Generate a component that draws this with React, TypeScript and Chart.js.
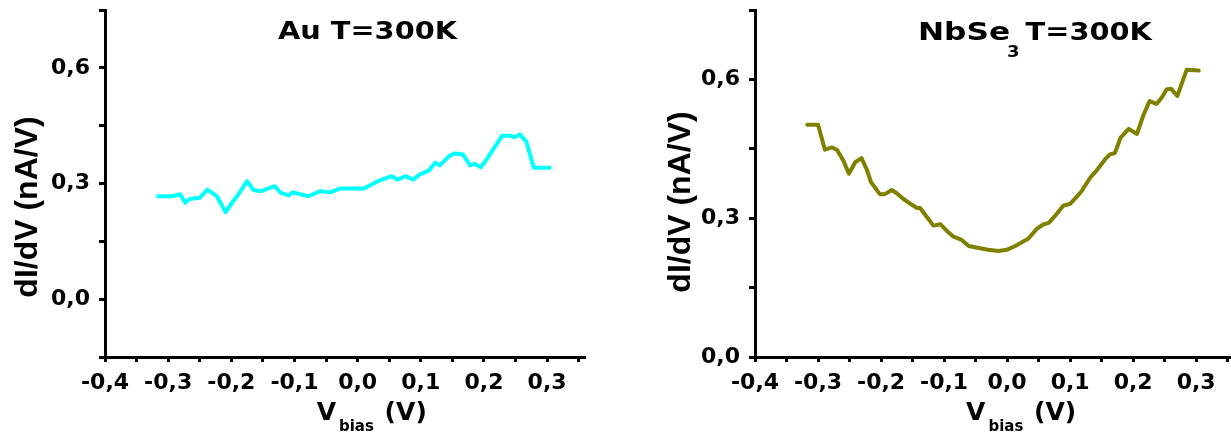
import React, { useEffect, useRef } from 'react';
import { Chart, registerables } from 'chart.js';

Chart.register(...registerables);

// ---- Data ----
const auBias = [-0.316, -0.294, -0.281, -0.273, -0.266, -0.25, -0.238, -0.223, -0.209, -0.197, -0.187, -0.175, -0.165, -0.153, -0.131, -0.122, -0.109, -0.103, -0.078, -0.059, -0.043, -0.028, 0.01, 0.032, 0.054, 0.063, 0.076, 0.088, 0.098, 0.113, 0.123, 0.13, 0.145, 0.154, 0.167, 0.178, 0.185, 0.195, 0.204, 0.229, 0.242, 0.248, 0.257, 0.267, 0.279, 0.304];
const auDIdV = [0.267, 0.267, 0.272, 0.25, 0.26, 0.263, 0.284, 0.267, 0.226, 0.254, 0.276, 0.306, 0.283, 0.28, 0.293, 0.276, 0.269, 0.277, 0.267, 0.28, 0.277, 0.287, 0.287, 0.306, 0.319, 0.31, 0.319, 0.31, 0.323, 0.334, 0.354, 0.347, 0.371, 0.378, 0.375, 0.347, 0.351, 0.342, 0.362, 0.424, 0.424, 0.42, 0.427, 0.409, 0.341, 0.341];

const nbBias = [-0.317, -0.3, -0.289, -0.278, -0.27, -0.26, -0.251, -0.241, -0.231, -0.222, -0.216, -0.21, -0.202, -0.194, -0.183, -0.175, -0.165, -0.151, -0.143, -0.138, -0.127, -0.117, -0.106, -0.096, -0.085, -0.072, -0.061, -0.043, -0.03, -0.014, 0.0, 0.013, 0.034, 0.047, 0.058, 0.066, 0.076, 0.089, 0.1, 0.111, 0.119, 0.132, 0.142, 0.156, 0.163, 0.171, 0.18, 0.193, 0.206, 0.216, 0.226, 0.237, 0.246, 0.253, 0.26, 0.27, 0.285, 0.304];
const nbDIdV = [0.502, 0.502, 0.448, 0.453, 0.448, 0.425, 0.396, 0.421, 0.43, 0.403, 0.378, 0.367, 0.352, 0.352, 0.361, 0.354, 0.342, 0.329, 0.322, 0.322, 0.302, 0.284, 0.287, 0.273, 0.26, 0.253, 0.24, 0.235, 0.232, 0.229, 0.232, 0.24, 0.256, 0.277, 0.287, 0.29, 0.305, 0.327, 0.331, 0.347, 0.36, 0.388, 0.403, 0.428, 0.438, 0.441, 0.474, 0.493, 0.482, 0.522, 0.553, 0.547, 0.562, 0.578, 0.58, 0.564, 0.621, 0.619];

const xTickValues = [-0.4, -0.35, -0.3, -0.25, -0.2, -0.15, -0.1, -0.05, 0, 0.05, 0.1, 0.15, 0.2, 0.25, 0.3, 0.35];
const auYTickValues = [-0.15, 0, 0.15, 0.3, 0.45, 0.6, 0.75];
const nbYTickValues = [0, 0.15, 0.3, 0.45, 0.6, 0.75];
const xMajorStep = 0.1;
const yMajorStep = 0.3;

const auTitle = [{ text: 'Au T=300K', size: 24, dy: 0, gap: 0, stretch: 1.2 }];
const nbTitle = [
  { text: 'NbSe', size: 24, dy: 0, gap: -3, stretch: 1.3 },
  { text: '3', size: 15, dy: 17, gap: 6, stretch: 1.2 },
  { text: 'T=300K', size: 24, dy: 0, gap: 0, stretch: 1.2 },
];
const xTitleRuns = [
  { text: 'V', size: 25, dy: 0, gap: 3, stretch: 1 },
  { text: 'bias', size: 15, dy: 11, gap: 2, stretch: 1 },
  { text: ' (V)', size: 25, dy: 0, gap: 0, stretch: 1 },
];
const yTitleText = 'dI/dV (nA/V)';

const fmt = (v: number) => v.toFixed(1).replace('.', ',');
const isMajor = (v: number, step: number) => Math.abs(v / step - Math.round(v / step)) < 1e-6;

const TICK_FONT = { family: '"DejaVu Sans", sans-serif', size: 22, weight: 'bold' as const, lineHeight: 1.2 };

function drawRuns(ctx: CanvasRenderingContext2D, runs: any[], x: number, baseline: number) {
  let cx = x;
  for (const r of runs) {
    ctx.font = `bold ${r.size}px "DejaVu Sans", sans-serif`;
    ctx.save();
    ctx.translate(cx, baseline + r.dy);
    ctx.scale(r.stretch, 1);
    ctx.textAlign = 'left';
    ctx.textBaseline = 'alphabetic';
    ctx.fillText(r.text, 0, 0);
    ctx.restore();
    cx += ctx.measureText(r.text).width * r.stretch + r.gap;
  }
}

type PanelCfg = {
  id: string;
  bias: number[];
  values: number[];
  color: string;
  yMin: number;
  yMax: number;
  yTicks: number[];
  canvasWidth: number;
  padRight: number;
  axisLeft: number;
  titleRuns: any[];
  titleX: number;
  titleBaseline: number;
  yTitleX: number;
  yTitleY: number;
};

function makeTextPlugin(cfg: PanelCfg) {
  return {
    id: 'panelText_' + cfg.id,
    afterDraw(chart: any) {
      const ctx: CanvasRenderingContext2D = chart.ctx;
      const xs = chart.scales.x;
      ctx.save();
      ctx.fillStyle = '#000';
      // panel title
      drawRuns(ctx, cfg.titleRuns, cfg.titleX, cfg.titleBaseline);
      // x axis title with subscript
      const x0 = xs.getPixelForValue(0);
      drawRuns(ctx, xTitleRuns, x0 - 41, 420);
      // y axis title, rotated
      ctx.save();
      ctx.translate(cfg.yTitleX, cfg.yTitleY);
      ctx.rotate(-Math.PI / 2);
      ctx.font = 'bold 32px "Liberation Sans", Arial, sans-serif';
      ctx.textAlign = 'center';
      ctx.textBaseline = 'alphabetic';
      ctx.fillText(yTitleText, 0, 0);
      ctx.restore();
      ctx.restore();
    },
  };
}

function Panel({ cfg, left }: { cfg: PanelCfg; left: number }) {
  const ref = useRef<HTMLCanvasElement | null>(null);
  useEffect(() => {
    if (!ref.current) return;
    const points = cfg.bias.map((b, i) => ({ x: b, y: cfg.values[i] }));
    const chart = new Chart(ref.current, {
      type: 'scatter',
      data: {
        datasets: [
          {
            data: points,
            showLine: true,
            borderColor: cfg.color,
            backgroundColor: cfg.color,
            borderWidth: 4,
            pointRadius: 0,
            tension: 0,
            borderJoinStyle: 'round',
            borderCapStyle: 'round',
          } as any,
        ],
      },
      options: {
        animation: false,
        responsive: false,
        devicePixelRatio: 1,
        layout: { padding: { top: 10, right: cfg.padRight, left: 0, bottom: 0 } },
        plugins: {
          legend: { display: false },
          tooltip: { enabled: false },
          title: { display: false },
        },
        scales: {
          x: {
            type: 'linear',
            position: 'bottom',
            min: -0.4,
            max: 0.36,
            afterBuildTicks: (s: any) => {
              s.ticks = xTickValues.map((v) => ({ value: v }));
            },
            afterFit: (s: any) => {
              s.height = 75;
              s.paddingLeft = 0;
              s.paddingRight = 0;
            },
            ticks: {
              autoSkip: false,
              maxRotation: 0,
              minRotation: 0,
              padding: 8,
              color: '#000',
              font: TICK_FONT,
              callback: (v: any) => (isMajor(Number(v), xMajorStep) ? fmt(Number(v)) : ''),
            },
            grid: {
              display: true,
              drawOnChartArea: false,
              drawTicks: true,
              tickLength: 5,
              tickWidth: 3,
              tickColor: '#000',
            },
            border: { display: true, color: '#000', width: 3 },
          },
          y: {
            type: 'linear',
            position: 'left',
            min: cfg.yMin,
            max: cfg.yMax,
            afterBuildTicks: (s: any) => {
              s.ticks = cfg.yTicks.map((v) => ({ value: v }));
            },
            afterFit: (s: any) => {
              s.width = cfg.axisLeft;
              s.paddingTop = 0;
              s.paddingBottom = 0;
            },
            ticks: {
              autoSkip: false,
              padding: 9,
              color: '#000',
              font: TICK_FONT,
              callback: (v: any) => (isMajor(Number(v), yMajorStep) ? fmt(Number(v)) : ''),
            },
            grid: {
              display: true,
              drawOnChartArea: false,
              drawTicks: true,
              tickLength: 6,
              tickWidth: 3,
              tickColor: '#000',
            },
            border: { display: true, color: '#000', width: 3 },
          },
        },
      } as any,
      plugins: [makeTextPlugin(cfg)],
    });
    return () => chart.destroy();
  }, [cfg]);
  return (
    <canvas
      ref={ref}
      width={cfg.canvasWidth}
      height={432}
      style={{ position: 'absolute', left, top: 0, width: cfg.canvasWidth, height: 432 }}
    />
  );
}

const auCfg: PanelCfg = {
  id: 'au',
  bias: auBias,
  values: auDIdV,
  color: '#00FFFF',
  yMin: -0.15,
  yMax: 0.75,
  yTicks: auYTickValues,
  canvasWidth: 615,
  padRight: 30,
  axisLeft: 105,
  titleRuns: auTitle,
  titleX: 278,
  titleBaseline: 39,
  yTitleX: 37,
  yTitleY: 207,
};

const nbCfg: PanelCfg = {
  id: 'nb',
  bias: nbBias,
  values: nbDIdV,
  color: '#808000',
  yMin: 0,
  yMax: 0.75,
  yTicks: nbYTickValues,
  canvasWidth: 620,
  padRight: 2,
  axisLeft: 139,
  titleRuns: nbTitle,
  titleX: 302,
  titleBaseline: 40,
  yTitleX: 74,
  yTitleY: 202,
};

export default function App() {
  return (
    <div
      style={{
        position: 'fixed',
        left: 0,
        top: 0,
        width: 1231,
        height: 432,
        overflow: 'hidden',
        background: '#fff',
      }}
    >
      <Panel cfg={auCfg} left={0} />
      <Panel cfg={nbCfg} left={616} />
    </div>
  );
}
